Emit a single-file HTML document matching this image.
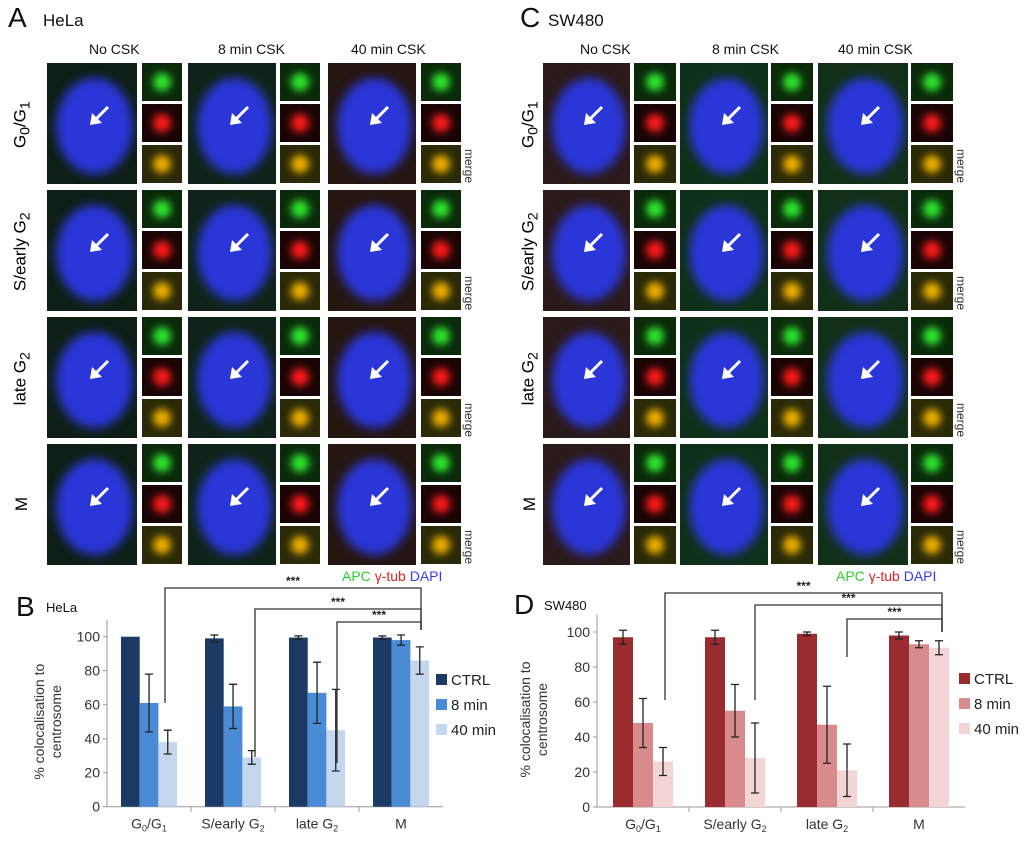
<!DOCTYPE html>
<html><head><meta charset="utf-8">
<style>
body{margin:0;background:#fff;font-family:"Liberation Sans",sans-serif;}
#root{position:relative;width:1024px;height:842px;overflow:hidden;background:#fff;}
.big{position:absolute;overflow:hidden;background:#14201a;}
.nuc{position:absolute;border-radius:50%;background:#2a36d8;filter:blur(5px);}
.sm{position:absolute;overflow:hidden;}
.blob{position:absolute;border-radius:50%;filter:blur(4px);}
.t{position:absolute;white-space:nowrap;color:#111;}
.rot{position:absolute;transform:rotate(-90deg);transform-origin:center;white-space:nowrap;font-size:17px;}
.mg{position:absolute;transform:rotate(90deg);font-size:12px;color:#333;white-space:nowrap;}
</style></head><body>
<div id="root">
<div class="t" style="left:8px;top:2px;font-size:28px">A</div>
<div class="t" style="left:43px;top:11px;font-size:17px">HeLa</div>
<div class="t" style="left:520px;top:2px;font-size:28px">C</div>
<div class="t" style="left:548px;top:11px;font-size:17px">SW480</div>

<div class="t" style="left:89px;top:41px;font-size:14px">No CSK</div>
<div class="t" style="left:218px;top:41px;font-size:14px">8 min CSK</div>
<div class="t" style="left:351px;top:41px;font-size:14px">40 min CSK</div>
<div class="t" style="left:580px;top:41px;font-size:14px">No CSK</div>
<div class="t" style="left:712px;top:41px;font-size:14px">8 min CSK</div>
<div class="t" style="left:838px;top:41px;font-size:14px">40 min CSK</div>

<div class="t" style="left:342px;top:568px;font-size:14px"><span style="color:#2bd12b">APC</span> <span style="color:#e0202a">γ-tub</span> <span style="color:#3a3af0">DAPI</span></div>
<div class="t" style="left:836px;top:568px;font-size:14px"><span style="color:#2bd12b">APC</span> <span style="color:#e0202a">γ-tub</span> <span style="color:#3a3af0">DAPI</span></div>

<svg id="chartB" style="position:absolute;left:0;top:570px" width="512" height="272"></svg>
<svg id="chartD" style="position:absolute;left:512px;top:570px" width="512" height="272"></svg>
</div>
<script>
const root=document.getElementById('root');
const rowsY=[63,190,317,444];
const rowH=121;
const rowLabels=['G<sub>0</sub>/G<sub>1</sub>','S/early G<sub>2</sub>','late G<sub>2</sub>','M'];
const panels=[
 {cols:[[47,90,142],[188,88,280],[328,88,421]],sw:40,lx:22,mx:468,bg:['#0e1f16','#0f2418','#251612']},
 {cols:[[543,87,634],[680,88,771],[818,90,911]],sw:42,lx:530,mx:960,bg:['#2a1a1a','#0f3018','#123018']}
];
panels.forEach((p,pi)=>{
 rowsY.forEach((y,ri)=>{
  const lab=document.createElement('div');
  lab.className='rot';
  
  
  lab.innerHTML=rowLabels[ri];
  lab.style.left=(p.lx-50)+'px';lab.style.top=(y+50)+'px';lab.style.width='100px';lab.style.textAlign='center';
  root.appendChild(lab);
  p.cols.forEach((c,ci)=>{
   const b=document.createElement('div');
   b.className='big';
   
   
   b.style.left=c[0]+'px';b.style.top=y+'px';b.style.width=c[1]+'px';b.style.height=rowH+'px';
   b.style.background=p.bg[ci];
   const n=document.createElement('div');n.className='nuc';
   n.style.left=(c[1]*0.1)+'px';n.style.top=(rowH*0.12)+'px';n.style.width=(c[1]*0.85)+'px';n.style.height=(rowH*0.8)+'px';
   b.appendChild(n);
   b.insertAdjacentHTML('beforeend','<svg style="position:absolute;left:'+(c[1]*0.45)+'px;top:'+(rowH*0.35)+'px" width="22" height="22"><line x1="20" y1="2" x2="7" y2="15" stroke="#fff" stroke-width="3"/><polygon points="2,20 4,8 14,18" fill="#fff"/></svg>');
   root.appendChild(b);
   const cols=[['#0a2a0a','#2ee82e'],['#1a0505','#ff1a1a'],['#2a2a08','#f0b000']];
   for(let k=0;k<3;k++){
    const s=document.createElement('div');s.className='sm';
    
    
    s.style.left=c[2]+'px';s.style.top=(y+k*41)+'px';s.style.width=p.sw+'px';s.style.height='38px';
    s.style.background=cols[k][0];
    const bl=document.createElement('div');bl.className='blob';
    bl.style.left=(p.sw/2-9)+'px';bl.style.top='10px';bl.style.width='18px';bl.style.height='18px';bl.style.background=cols[k][1];
    s.appendChild(bl);root.appendChild(s);
   }
  });
  const m=document.createElement('div');m.className='mg';
  
  
  m.textContent='merge';m.style.left=(p.mx-16)+'px';m.style.top=(y+96)+'px';
  root.appendChild(m);
 });
});

// ---- chart data ----
const categories=['G0/G1','S/early G2','late G2','M'];
const seriesNames=['CTRL','8 min','40 min'];
const hCtrl=[100,99,99.5,99.5], hCtrlErr=[0,2,1,1];
const h8=[61,59,67,98], h8Err=[17,13,18,3];
const h40=[38,29,45,86], h40Err=[7,4,24,8];
const sCtrl=[97,97,99,98], sCtrlErr=[4,4,1,2];
const s8=[48,55,47,93], s8Err=[14,15,22,2];
const s40=[26,28,21,91], s40Err=[8,20,15,4];
const yTicks=[0,20,40,60,80,100];

const NS='http://www.w3.org/2000/svg';
function el(svg,tag,attrs,name,text){const e=document.createElementNS(NS,tag);for(const k in attrs)e.setAttribute(k,attrs[k]);
 
 
 if(text!==undefined)e.innerHTML=text;svg.appendChild(e);return e;}

function drawChart(id,cfg,vals,errs,colors){
 const svg=document.getElementById(id);
 const y=v=>cfg.y0-(cfg.y0-cfg.y100)*v/100;
 const catW=(cfg.xEnd-cfg.x0)/4;
 el(svg,'text',{x:cfg.letterX,y:cfg.letterY,'font-size':28,fill:'#111'},'panel-letter',cfg.letter);
 el(svg,'text',{x:cfg.letterX+30,y:cfg.letterY-4,'font-size':cfg.titleSize,fill:'#111'},'chart-title',cfg.title);
 el(svg,'line',{x1:cfg.x0,y1:y(0),x2:cfg.x0,y2:y(110),stroke:'#999'},'y-axis');
 el(svg,'line',{x1:cfg.x0,y1:y(0),x2:cfg.xEnd,y2:y(0),stroke:'#999'},'x-axis');
 yTicks.forEach(t=>{
  el(svg,'line',{x1:cfg.x0-4,y1:y(t),x2:cfg.x0,y2:y(t),stroke:'#999'},'y-tick');
  el(svg,'text',{x:cfg.x0-7,y:y(t)+5,'font-size':14,fill:'#333','text-anchor':'end'},'y-tick-label',t);
 });
 const xl=['G<tspan dy="3" font-size="9">0</tspan><tspan dy="-3">/G</tspan><tspan dy="3" font-size="9">1</tspan>','S/early G<tspan dy="3" font-size="9">2</tspan>','late G<tspan dy="3" font-size="9">2</tspan>','M'];
 categories.forEach((c,i)=>{
  const cx=cfg.x0+catW*(i+0.5);
  if(i>0)el(svg,'line',{x1:cfg.x0+catW*i,y1:y(0),x2:cfg.x0+catW*i,y2:y(0)+5,stroke:'#999'},'x-tick');
  el(svg,'text',{x:cx,y:y(0)+22,'font-size':14,fill:'#333','text-anchor':'middle'},'x-tick-label',xl[i]);
  for(let s=0;s<3;s++){
   const bx=cfg.x0+catW*i+cfg.off+s*cfg.bw;
   el(svg,'rect',{x:bx,y:y(vals[s][i]),width:cfg.bw,height:y(0)-y(vals[s][i]),fill:colors[s]},'bar-'+seriesNames[s].replace(' ','')+'-'+i);
   const e=errs[s][i];
   if(e>0){const m=bx+cfg.bw/2;
    el(svg,'path',{d:`M${m-4},${y(vals[s][i]+e)}H${m+4}M${m},${y(vals[s][i]+e)}V${y(vals[s][i]-e)}M${m-4},${y(vals[s][i]-e)}H${m+4}`,stroke:'#222','stroke-width':1.3,fill:'none'},'error-bar');}
  }
 });
 cfg.br.forEach((b,i)=>{
  el(svg,'path',{d:`M${b[0]},${b[1]}V${b[2]}H${cfg.brRight}V${cfg.brRightY}`,stroke:'#333','stroke-width':1.3,fill:'none'},'significance-bracket');
  el(svg,'text',{x:(b[0]+cfg.brRight)/2,y:b[2]-3,'font-size':12,'font-weight':'bold',fill:'#222','text-anchor':'middle'},'significance-stars','***');
 });
 seriesNames.forEach((n,s)=>{
  el(svg,'rect',{x:cfg.legX,y:cfg.legY+s*25-6,width:11,height:11,fill:colors[s]},'legend-swatch');
  el(svg,'text',{x:cfg.legX+15,y:cfg.legY+s*25+5,'font-size':15,fill:'#222'},'legend-entry',n);
 });
 el(svg,'text',{transform:`translate(${cfg.ytX},${(y(0)+y(100))/2}) rotate(-90)`,'font-size':14,fill:'#333','text-anchor':'middle'},'y-axis-title','<tspan x="0" dy="-8">% colocalisation to</tspan><tspan x="0" dy="17">centrosome</tspan>');
}
drawChart('chartB',{y0:236.7,y100:66.7,x0:107,xEnd:443,off:14,bw:18.7,letter:'B',letterX:16,letterY:46,title:'HeLa',titleSize:13,
 br:[[165,133,18],[255,187,39],[337,193,52]],brRight:421,brRightY:60,legX:436,legY:110,ytX:52},
 [hCtrl,h8,h40],[hCtrlErr,h8Err,h40Err],['#1c3a66','#4a8bd6','#c5d7ef']);
drawChart('chartD',{y0:237,y100:62,x0:85,xEnd:453,off:16,bw:20,letter:'D',letterX:2,letterY:44,title:'SW480',titleSize:13,
 br:[[153,130,23],[243,130,35],[335,87,49]],brRight:430,brRightY:62,legX:447,legY:109,ytX:26},
 [sCtrl,s8,s40],[sCtrlErr,s8Err,s40Err],['#9a2b2e','#d98a8a','#f3d5d5']);
</script>
</body></html>
